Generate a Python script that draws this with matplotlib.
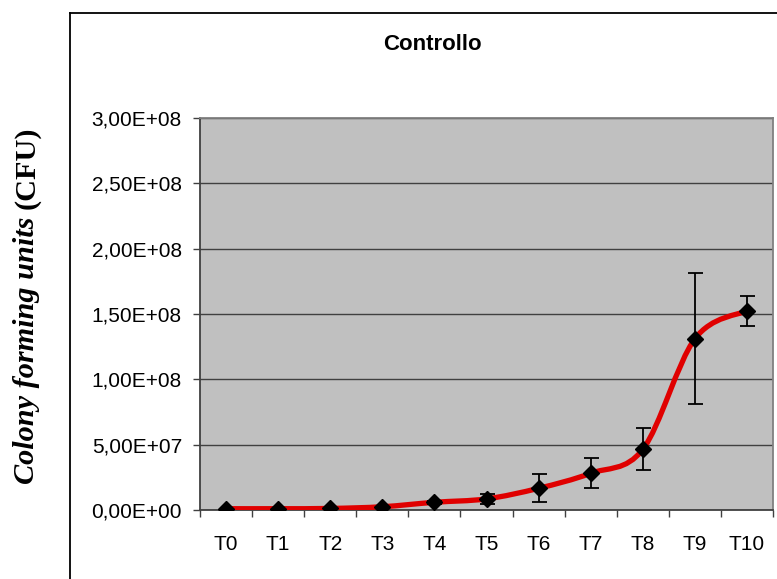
import numpy as np
import matplotlib
matplotlib.use("Agg")
import matplotlib.pyplot as plt
import matplotlib.ticker as mt
from matplotlib.lines import Line2D
from matplotlib.path import Path
from matplotlib.patches import PathPatch

# growth curve of the control sample (CFU, mean and error)
times = ["T0", "T1", "T2", "T3", "T4", "T5", "T6", "T7", "T8", "T9", "T10"]
cfu = [1.0e6, 1.0e6, 1.2e6, 2.5e6, 5.9e6, 8.5e6, 1.66e7, 2.81e7, 4.64e7, 1.31e8, 1.525e8]
cfu_err = [0, 0, 0, 0, 1.0e6, 4.0e6, 1.06e7, 1.15e7, 1.6e7, 5.0e7, 1.15e7]
y_ticks = [0, 5e7, 1e8, 1.5e8, 2e8, 2.5e8, 3e8]


def smooth_path(x, y, t=1.0 / 6):
    # cubic bezier through every point, like a spreadsheet "smoothed line"
    verts = [(x[0], y[0])]
    codes = [Path.MOVETO]
    n = len(x)
    for i in range(n - 1):
        x0, y0 = (x[i - 1], y[i - 1]) if i > 0 else (x[i], y[i])
        x3, y3 = (x[i + 2], y[i + 2]) if i + 2 < n else (x[i + 1], y[i + 1])
        c1 = (x[i] + t * (x[i + 1] - x0), y[i] + t * (y[i + 1] - y0))
        c2 = (x[i + 1] - t * (x3 - x[i]), y[i + 1] - t * (y3 - y[i]))
        verts += [c1, c2, (x[i + 1], y[i + 1])]
        codes += [Path.CURVE4] * 3
    return Path(verts, codes)


plt.rcParams['font.family'] = ['Liberation Sans', 'DejaVu Sans']

fig = plt.figure(figsize=(7.77, 5.79), dpi=100)
W, H = 777, 579
ax = fig.add_axes([200 / W, (H - 510) / H, 573 / W, 392 / H])
ax.set_facecolor('#c0c0c0')

x = np.arange(len(times))
ax.add_patch(PathPatch(smooth_path(x, cfu), facecolor='none', edgecolor='#e00000',
                       lw=3.8, capstyle='round', joinstyle='round', zorder=3))
ax.errorbar(x, cfu, yerr=cfu_err, fmt='none', ecolor='black', elinewidth=1.3,
            capsize=5.4, capthick=1.3, zorder=4)
ax.plot(x, cfu, linestyle='none', marker='D', markersize=8.6, color='black', zorder=5)

ax.set_xlim(-0.5, len(times) - 0.5)
ax.set_ylim(0, 3e8)
ax.set_yticks(y_ticks)
ax.yaxis.set_major_formatter(mt.FuncFormatter(lambda v, p: "{:.2E}".format(v).replace('.', ',')))
ax.set_xticks(x)
ax.set_xticklabels(times)
ax.set_xticks(np.arange(-0.5, len(times)), minor=True)
ax.tick_params(axis='x', which='major', length=0, pad=18, labelsize=15)
ax.tick_params(axis='x', which='minor', length=5, width=1, color='#404040')
ax.tick_params(axis='y', length=5, width=1, color='#404040', pad=8, labelsize=15)

ax.grid(axis='y', color='#404040', lw=1)
ax.set_axisbelow(True)
for side in ['left', 'bottom']:
    ax.spines[side].set_color('#404040')
    ax.spines[side].set_linewidth(1.3)
for side in ['top', 'right']:
    ax.spines[side].set_color('#808080')
    ax.spines[side].set_linewidth(1.3)

fig.text(432 / W, 1 - 45 / H, "Controllo", ha='center', va='center',
         fontsize=16, fontweight='bold')

# y label: italic words, then the upright unit stacked above them
lab_size = 21.8
lab_x, lab_yc = 27 / W, 1 - 305 / H
part1 = fig.text(lab_x, lab_yc, "Colony forming units ", rotation=90,
                 ha='center', va='bottom', fontsize=lab_size, fontweight='bold',
                 family='Liberation Serif', fontstyle='italic')
part2 = fig.text(lab_x, lab_yc, "(CFU)", rotation=90, ha='center', va='bottom',
                 fontsize=lab_size, fontweight='bold', family='Liberation Serif')
fig.canvas.draw()
r = fig.canvas.get_renderer()
h1 = part1.get_window_extent(r).height / fig.bbox.height
h2 = part2.get_window_extent(r).height / fig.bbox.height
y0 = lab_yc - (h1 + h2) / 2
part1.set_y(y0)
part2.set_y(y0 + h1)

# outer chart frame
fig.add_artist(Line2D([70 / W, 1.0], [1 - 13 / H] * 2, color='black', lw=1.3,
                      transform=fig.transFigure))
fig.add_artist(Line2D([70 / W] * 2, [0.0, 1 - 13 / H], color='black', lw=1.3,
                      transform=fig.transFigure))

fig.savefig("out.png", dpi=100)
